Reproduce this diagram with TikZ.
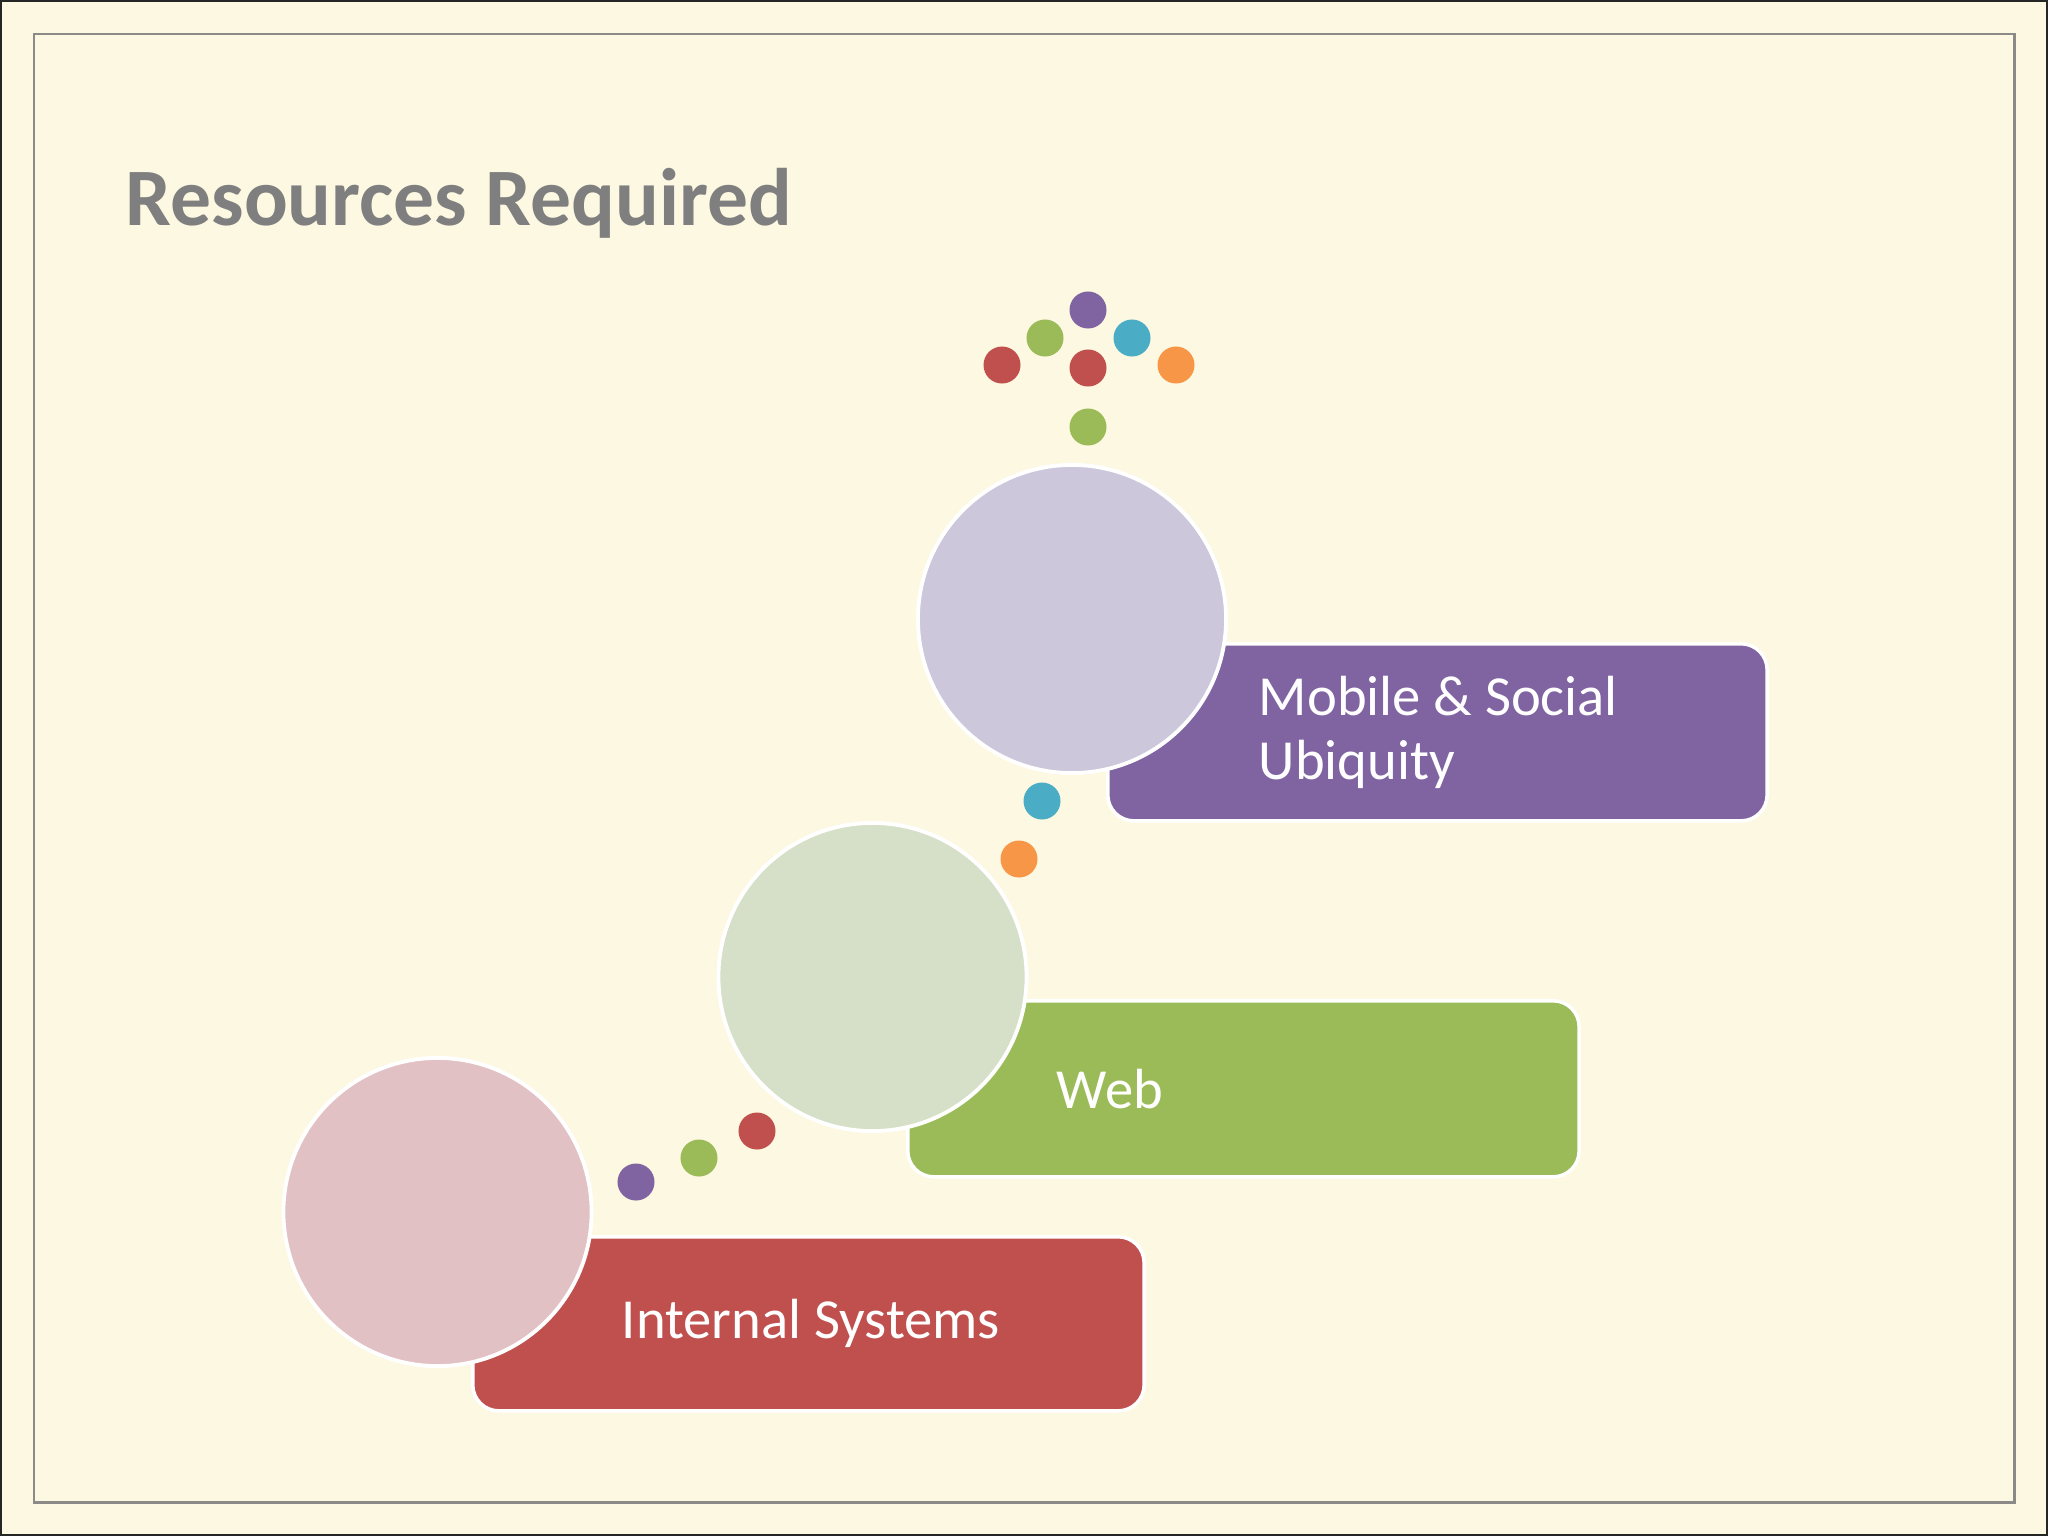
\documentclass[tikz,border=0pt]{standalone}
\usepackage{fontspec}
\setmainfont{Carlito}
\usetikzlibrary{positioning,calc}

\definecolor{cream}{HTML}{FDF8E1}
\definecolor{framegray}{HTML}{8C8A86}
\definecolor{titlegray}{HTML}{7F7F7F}
\definecolor{sysred}{HTML}{C0504D}
\definecolor{webgreen}{HTML}{9BBB59}
\definecolor{mobpurple}{HTML}{8064A2}
\definecolor{dotblue}{HTML}{4BACC6}
\definecolor{dotorange}{HTML}{F79646}
\definecolor{palered}{HTML}{E2C1C4}
\definecolor{palegreen}{HTML}{D6E0C8}
\definecolor{palepurple}{HTML}{CCC7DB}

\begin{document}
\begin{tikzpicture}[
    x=0.01cm,
    y=-0.01cm,
    title/.style={
        anchor=base west,
        inner sep=0pt,
        text=titlegray,
        font=\fontsize{23.2}{28}\selectfont\bfseries
    },
    bubble/.style={
        circle,
        draw=white,
        line width=1.1pt,
        minimum size=3.08cm,
        inner sep=0pt
    },
    stage/.style={
        rectangle,
        draw=white,
        line width=1pt,
        rounded corners=0.26cm,
        minimum width=6.71cm,
        minimum height=1.74cm,
        anchor=north west
    },
    stagetext/.style={
        anchor=west,
        align=left,
        inner sep=0pt,
        text=white,
        font=\fontsize{16.1}{18.4}\selectfont
    },
    dot/.style={
        circle,
        inner sep=0pt,
        minimum size=0.37cm
    }
]

    % Slide
    \useasboundingbox (0,0) rectangle (2048,1536);
    \fill[cream] (0,0) rectangle (2048,1536);
    \draw[black!85, line width=1.2pt] (0,0) rectangle (2048,1536);
    \draw[framegray, line width=0.85pt] (34,34) rectangle (2014,1502);

    % Title
    \node [title] (title) at (125,225) {Resources Required};

    % Stages
    \node [stage, fill=sysred] (sys) at (471,1235) {};
    \node [stage, fill=webgreen, minimum height=1.76cm] (web) at (906,999) {};
    \node [stage, fill=mobpurple, minimum width=6.59cm, minimum height=1.77cm] (mob) at (1106,642) {};

    \node [stagetext, right=1.5cm of sys.west] (sys_txt) {Internal Systems};
    \node [stagetext, right=1.5cm of web.west] (web_txt) {Web};
    \node [stagetext, right=1.52cm of mob.west] (mob_txt) {Mobile \& Social\\Ubiquity};

    % Bubbles
    \node [bubble, fill=palered] (sys_bub) at (437.5,1212) {};
    \node [bubble, fill=palegreen] (web_bub) at (872.5,977) {};
    \node [bubble, fill=palepurple] (mob_bub) at (1072,619) {};

    % Dots
    \foreach \x/\y/\c [count=\i] in {
        636/1182/mobpurple, 699/1158/webgreen, 757/1131/sysred,
        1019/859/dotorange, 1042/801/dotblue,
        1088/427/webgreen, 1002/365/sysred, 1088/368/sysred, 1176/365/dotorange,
        1045/338/webgreen, 1132/338/dotblue, 1088/310/mobpurple}
        \node [dot, fill=\c] (dot\i) at (\x,\y) {};

\end{tikzpicture}
\end{document}
